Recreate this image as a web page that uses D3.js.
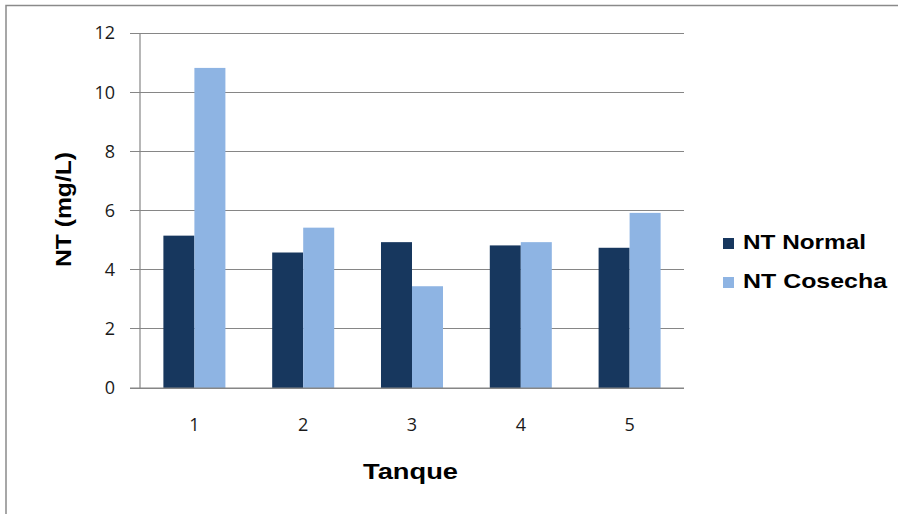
<!DOCTYPE html>
<html>
<head>
<meta charset="utf-8">
<script src="https://cdn.jsdelivr.net/npm/d3@7"></script>
<style>
  html, body { margin: 0; padding: 0; background: #fff; }
  svg { display: block; }
</style>
</head>
<body>
<svg id="chart" width="898" height="514"></svg>
<script>
const categories = ["1", "2", "3", "4", "5"];
const seriesNames = ["NT Normal", "NT Cosecha"];
const ntNormal = [5.15, 4.58, 4.93, 4.82, 4.74];
const ntCosecha = [10.82, 5.42, 3.44, 4.93, 5.92];
const yTicks = [0, 2, 4, 6, 8, 10, 12];
const colors = ["#17375E", "#8EB4E3"];

(function () {
const rows = categories.map((c, i) => ({ cat: c, values: [ntNormal[i], ntCosecha[i]] }));

const svg = d3.select("#chart");

// outer frame
svg.append("rect")
  .attr("x", 6).attr("y", 5.5).attr("width", 1000).attr("height", 1000)
  .attr("fill", "#fff").attr("stroke", "#8a8a8a").attr("stroke-width", 1.5);

const pLeft = 140, pRight = 684, pTop = 33, pBottom = 388;

const x = d3.scaleBand().domain(categories).range([pLeft, pRight])
  .paddingInner(0.43).paddingOuter(0.215);
const xs = d3.scaleBand().domain(seriesNames).range([0, x.bandwidth()]).padding(0);
const y = d3.scaleLinear().domain([0, 12]).range([pBottom, pTop]);

// gridlines (extend left as tick marks)
svg.append("g").selectAll("line").data(yTicks).join("line")
  .attr("x1", pLeft - 10).attr("x2", pRight)
  .attr("y1", d => y(d)).attr("y2", d => y(d))
  .attr("stroke", "#868686").attr("stroke-width", 1)
  .attr("shape-rendering", "crispEdges");

// bars
const g = svg.append("g").selectAll("g").data(rows).join("g")
  .attr("transform", d => `translate(${x(d.cat)},0)`);
g.selectAll("rect").data(d => d.values.map((v, i) => ({ v, s: seriesNames[i], i })))
  .join("rect")
  .attr("x", d => xs(d.s))
  .attr("width", xs.bandwidth())
  .attr("y", d => y(d.v))
  .attr("height", d => y(0) - y(d.v))
  .attr("fill", d => colors[d.i]);

// left axis line
svg.append("line")
  .attr("x1", pLeft).attr("x2", pLeft).attr("y1", pTop).attr("y2", pBottom)
  .attr("stroke", "#868686").attr("stroke-width", 1.2);
// bottom axis line
svg.append("line")
  .attr("x1", pLeft - 10).attr("x2", pRight).attr("y1", pBottom).attr("y2", pBottom)
  .attr("stroke", "#868686").attr("stroke-width", 1.2);

// y tick labels
svg.append("g").selectAll("text").data(yTicks).join("text")
  .attr("x", 115).attr("y", d => y(d))
  .attr("dy", "0.36em")
  .attr("text-anchor", "end")
  .attr("font-family", "'Open Sans', sans-serif")
  .attr("font-size", 18)
  .attr("fill", "#1a1a1a")
  .text(d => d);

// x tick labels
svg.append("g").selectAll("text").data(categories).join("text")
  .attr("x", d => x(d) + x.bandwidth() / 2)
  .attr("y", 431)
  .attr("text-anchor", "middle")
  .attr("font-family", "'Open Sans', sans-serif")
  .attr("font-size", 18)
  .attr("fill", "#1a1a1a")
  .text(d => d);

// axis titles
svg.append("text")
  .attr("x", 410.5).attr("y", 479)
  .attr("text-anchor", "middle")
  .attr("font-family", "'Liberation Sans', Arial, sans-serif")
  .attr("font-weight", "bold").attr("font-size", 22)
  .attr("textLength", 95).attr("lengthAdjust", "spacingAndGlyphs")
  .text("Tanque");

svg.append("text")
  .attr("transform", "translate(70.5,209.5) rotate(-90)")
  .attr("text-anchor", "middle")
  .attr("font-family", "'Liberation Sans', Arial, sans-serif")
  .attr("font-weight", "bold").attr("font-size", 21.5)
  .attr("textLength", 115).attr("lengthAdjust", "spacingAndGlyphs")
  .text("NT (mg/L)");

// legend
const legendW = [123, 144];
const leg = svg.append("g").selectAll("g").data(seriesNames).join("g")
  .attr("transform", (d, i) => `translate(723,${238 + i * 39})`);
leg.append("rect").attr("width", 11).attr("height", 11)
  .attr("fill", (d, i) => colors[i]);
leg.append("text")
  .attr("x", 20).attr("y", 11)
  .attr("font-family", "'Liberation Sans', Arial, sans-serif")
  .attr("font-weight", "bold").attr("font-size", 21)
  .attr("textLength", (d, i) => legendW[i]).attr("lengthAdjust", "spacingAndGlyphs")
  .text(d => d);
})();
</script>
</body>
</html>
